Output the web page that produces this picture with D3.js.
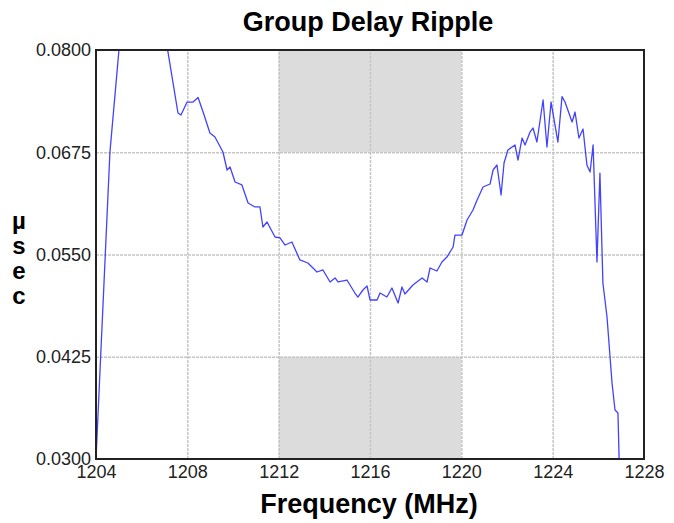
<!DOCTYPE html>
<html>
<head>
<meta charset="utf-8">
<script src="https://cdn.jsdelivr.net/npm/d3@7"></script>
<style>
  body { margin: 0; background: #fff; }
  svg { display: block; font-family: "Liberation Sans", Arial, sans-serif; }
</style>
</head>
<body>
<div id="js-svg-container"></div>
<script>
// measured trace, MHz
let freqs = [1204.00, 1204.61, 1205.10, 1206.20, 1207.05, 1207.59, 1207.72, 1207.99, 1208.25, 1208.47,
    1208.69, 1208.99, 1209.21, 1209.56, 1209.74, 1209.87, 1210.09, 1210.39, 1210.66, 1210.96,
    1211.18, 1211.31, 1211.49, 1211.84, 1212.06, 1212.28, 1212.58, 1212.93, 1213.28, 1213.68,
    1213.94, 1214.25, 1214.47, 1214.60, 1214.99, 1215.34, 1215.47, 1215.69, 1215.87, 1216.00,
    1216.31, 1216.44, 1216.74, 1216.96, 1217.23, 1217.40, 1217.53, 1217.88, 1218.28, 1218.50,
    1218.63, 1218.93, 1219.15, 1219.37, 1219.64, 1219.72, 1220.03, 1220.25, 1220.51, 1220.69,
    1220.95, 1221.26, 1221.39, 1221.56, 1221.74, 1221.87, 1222.04, 1222.35, 1222.48, 1222.66,
    1222.79, 1223.01, 1223.14, 1223.31, 1223.58, 1223.75, 1223.93, 1224.23, 1224.41, 1224.54,
    1224.85, 1224.98, 1225.15, 1225.33, 1225.50, 1225.64, 1225.77, 1225.94, 1226.07, 1226.20,
    1226.38, 1226.60, 1226.73, 1226.86, 1226.91];

// group delay, usec
let delays = [0.03000, 0.06750, 0.08300, 0.08800, 0.08150, 0.07230, 0.07205, 0.07364, 0.07364, 0.07420,
    0.07242, 0.06985, 0.06936, 0.06753, 0.06533, 0.06570, 0.06386, 0.06350, 0.06130, 0.06081,
    0.06081, 0.05836, 0.05897, 0.05714, 0.05702, 0.05616, 0.05653, 0.05433, 0.05396, 0.05286,
    0.05311, 0.05164, 0.05213, 0.05164, 0.05188, 0.05029, 0.04980, 0.05066, 0.05115, 0.04944,
    0.04944, 0.05029, 0.04980, 0.05090, 0.04907, 0.05103, 0.05017, 0.05127, 0.05213, 0.05164,
    0.05335, 0.05298, 0.05408, 0.05469, 0.05592, 0.05738, 0.05738, 0.05922, 0.06044, 0.06166,
    0.06325, 0.06362, 0.06533, 0.06594, 0.06227, 0.06619, 0.06778, 0.06839, 0.06655, 0.06924,
    0.06839, 0.06998, 0.07046, 0.06875, 0.07389, 0.06814, 0.07364, 0.06875, 0.07430, 0.07364,
    0.07120, 0.07242, 0.06924, 0.07034, 0.06594, 0.06509, 0.06839, 0.05408, 0.06496, 0.05152,
    0.04736, 0.03929, 0.03599, 0.03562, 0.03000];

let xTicks = [1204, 1208, 1212, 1216, 1220, 1224, 1228];
let yTicks = [0.0300, 0.0425, 0.0550, 0.0675, 0.0800];
let bandFreqs = [1212, 1220];
// shaded spec areas: [low, high] in usec
let bandDelays = [[0.0675, 0.0800], [0.0300, 0.0425]];
let yLetters = ['µ', 's', 'e', 'c'];

let width = 674, height = 523;
let margin = { top: 50, right: 30, bottom: 64, left: 96 };

let x = d3.scaleLinear()
    .domain([1204, 1228])
    .range([margin.left, width - margin.right]);

let y = d3.scaleLinear()
    .domain([0.03, 0.08])
    .range([height - margin.bottom, margin.top]);

let svg = d3.select('#js-svg-container')
    .append('svg')
    .attr('width', width)
    .attr('height', height);

svg.append('defs').append('clipPath')
    .attr('id', 'plot-clip')
    .append('rect')
    .attr('x', x(1204))
    .attr('y', y(0.08))
    .attr('width', x(1228) - x(1204))
    .attr('height', y(0.03) - y(0.08));

// gray bands
svg.selectAll('.band')
    .data(bandDelays)
    .enter()
    .append('rect')
    .attr('class', 'band')
    .attr('x', x(bandFreqs[0]))
    .attr('width', x(bandFreqs[1]) - x(bandFreqs[0]))
    .attr('y', d => y(d[1]))
    .attr('height', d => y(d[0]) - y(d[1]))
    .style('fill', '#dcdcdc');

// grid
let gridX = d3.axisBottom(x)
    .tickValues(xTicks.slice(1, -1))
    .tickSize(-(y(0.03) - y(0.08)))
    .tickFormat('');
svg.append('g')
    .attr('transform', 'translate(0,' + y(0.03) + ')')
    .call(gridX)
    .call(g => g.select('.domain').remove());

let gridY = d3.axisLeft(y)
    .tickValues(yTicks.slice(1, -1))
    .tickSize(-(x(1228) - x(1204)))
    .tickFormat('');
svg.append('g')
    .attr('transform', 'translate(' + x(1204) + ',0)')
    .call(gridY)
    .call(g => g.select('.domain').remove());

svg.selectAll('.tick line')
    .style('stroke', '#c6c6c6')
    .style('stroke-width', 1.5)
    .style('stroke-dasharray', '3,1');

// trace
let points = freqs.map((f, i) => [f, delays[i]]);
let line = d3.line()
    .x(d => x(d[0]))
    .y(d => y(d[1]));

svg.append('path')
    .datum(points)
    .attr('clip-path', 'url(#plot-clip)')
    .attr('d', line)
    .style('fill', 'none')
    .style('stroke', '#4242ff')
    .style('stroke-width', 1.3)
    .style('stroke-linejoin', 'round');

// frame
svg.append('rect')
    .attr('x', x(1204))
    .attr('y', y(0.08))
    .attr('width', x(1228) - x(1204))
    .attr('height', y(0.03) - y(0.08))
    .style('fill', 'none')
    .style('stroke', '#222')
    .style('stroke-width', 2);

// tick labels
let axisX = d3.axisBottom(x)
    .tickValues(xTicks)
    .tickSize(0)
    .tickPadding(6)
    .tickFormat(d3.format('d'));
svg.append('g')
    .attr('transform', 'translate(0,' + y(0.03) + ')')
    .call(axisX)
    .call(g => g.select('.domain').remove())
    .selectAll('text')
    .style('font-size', '18px')
    .style('font-family', '"Liberation Sans", Arial, sans-serif')
    .style('fill', '#222');

let axisY = d3.axisLeft(y)
    .tickValues(yTicks)
    .tickSize(0)
    .tickPadding(5)
    .tickFormat(d3.format('.4f'));
svg.append('g')
    .attr('transform', 'translate(' + x(1204) + ',0)')
    .call(axisY)
    .call(g => g.select('.domain').remove())
    .selectAll('text')
    .style('font-size', '18px')
    .style('font-family', '"Liberation Sans", Arial, sans-serif')
    .style('fill', '#222');

// titles
svg.append('text')
    .attr('x', (x(1204) + x(1228)) / 2 - 2)
    .attr('y', 31)
    .attr('text-anchor', 'middle')
    .style('font-size', '27px')
    .style('font-weight', 'bold')
    .text('Group Delay Ripple');

svg.append('text')
    .attr('x', (x(1204) + x(1228)) / 2 - 1)
    .attr('y', 513)
    .attr('text-anchor', 'middle')
    .style('font-size', '27px')
    .style('font-weight', 'bold')
    .text('Frequency (MHz)');

svg.selectAll('.ylab')
    .data(yLetters)
    .enter()
    .append('text')
    .attr('class', 'ylab')
    .attr('x', 19)
    .attr('y', (d, i) => 229 + i * 25)
    .attr('text-anchor', 'middle')
    .style('font-size', '24px')
    .style('font-weight', 'bold')
    .text(d => d);
</script>
</body>
</html>
